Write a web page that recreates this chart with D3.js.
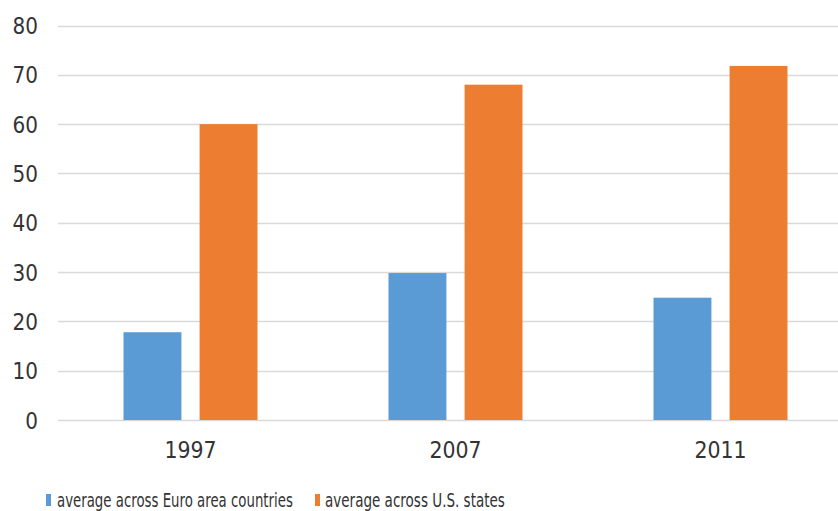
<!DOCTYPE html>
<html><head><meta charset="utf-8">
<script src="https://cdn.jsdelivr.net/npm/d3@7"></script>
<style>body{margin:0;background:#fff}svg{display:block}</style>
</head><body>
<script>
const categories = ["1997", "2007", "2011"];
const seriesNames = ["average across Euro area countries", "average across U.S. states"];
const euroValues = [17.8, 29.8, 24.8];
const usValues = [60, 68, 71.8];
const yTicks = [0, 10, 20, 30, 40, 50, 60, 70, 80];
const colors = ["#5B9BD5", "#ED7D31"];

const W = 838, H = 511;
const svg = d3.select("body").append("svg").attr("width", W).attr("height", H);
const font = "'DejaVu Sans', Verdana, sans-serif";
const textColor = "#333333";

const y = d3.scaleLinear().domain([0, 80]).range([420, 25.5]);
const x0 = d3.scaleBand().domain(categories).range([58, 853]).paddingInner(0).paddingOuter(0);
const bw = 59, gap = 16;
const inner = 2 * bw + gap;
const x1 = d3.scaleBand().domain(seriesNames).range([0, inner]).paddingInner(gap / (bw + gap / 2)).paddingOuter(0);

// gridlines
svg.append("g").selectAll("line").data(yTicks).join("line")
  .attr("x1", 58).attr("x2", W)
  .attr("y1", d => Math.round(y(d)) + 0.5).attr("y2", d => Math.round(y(d)) + 0.5)
  .attr("stroke", "#D9D9D9").attr("stroke-width", 1.3);

// y axis labels
const yAxis = d3.axisLeft(y).tickValues(yTicks).tickSize(0).tickPadding(0);
const gy = svg.append("g").attr("transform", "translate(38,0)").call(yAxis);
gy.select(".domain").remove();
gy.selectAll("text").attr("font-family", font).attr("font-size", 20).attr("fill", textColor)
  .attr("dy", "0.35em").attr("transform", "scale(1,1.15)");

// x axis labels
const xAxis = d3.axisBottom(x0).tickSize(0).tickPadding(0);
const gx = svg.append("g").attr("transform", "translate(0,441.5)").call(xAxis);
gx.select(".domain").remove();
gx.selectAll("text").attr("font-family", font).attr("font-size", 20.5).attr("fill", textColor)
  .attr("dy", "0.71em").attr("transform", "scale(1,1.15)");

// bars
const data = categories.map((c, i) => ({cat: c, vals: [euroValues[i], usValues[i]]}));
const groups = svg.append("g").selectAll("g").data(data).join("g")
  .attr("transform", d => `translate(${x0(d.cat) + (x0.bandwidth() - inner) / 2},0)`);
groups.selectAll("rect").data(d => d.vals.map((v, j) => ({v, s: seriesNames[j], j})))
  .join("rect")
  .attr("x", d => x1(d.s))
  .attr("width", x1.bandwidth())
  .attr("y", d => y(d.v))
  .attr("height", d => y(0) - y(d.v))
  .attr("fill", d => colors[d.j]);

// legend
const legendItems = [
  {name: seriesNames[0], color: colors[0], sx: 46, tx: 57, tw: 236},
  {name: seriesNames[1], color: colors[1], sx: 315, tx: 325, tw: 180}
];
const lg = svg.append("g");
legendItems.forEach(it => {
  lg.append("rect").attr("x", it.sx).attr("y", 494).attr("width", 5).attr("height", 12).attr("fill", it.color);
  const t = lg.append("text").attr("x", 0).attr("y", 0).attr("font-family", font).attr("font-size", 18)
    .attr("fill", textColor).text(it.name);
  const natural = t.node().getComputedTextLength();
  t.attr("transform", `translate(${it.tx},507) scale(${it.tw / natural},1.05)`);
});
</script>
</body></html>
